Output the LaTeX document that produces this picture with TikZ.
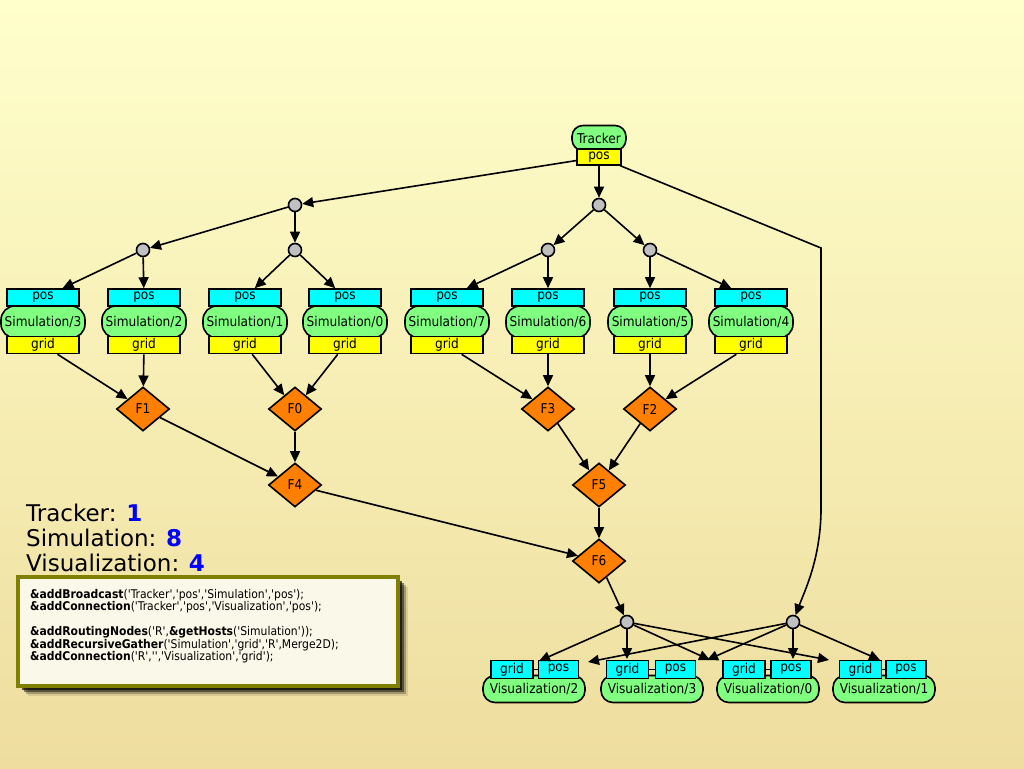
\documentclass[tikz,border=0pt]{standalone}
\usepackage{fontspec}
\setmainfont{DejaVu Sans}
\newfontfamily\cf{DejaVu Sans Condensed}
\usetikzlibrary{shapes.geometric,arrows.meta,calc}
\definecolor{bgtop}{HTML}{FFFFCC}
\definecolor{bgbot}{HTML}{EEDD9E}
\definecolor{grn}{HTML}{80FF80}
\definecolor{org}{HTML}{FF8000}
\definecolor{rgray}{HTML}{C0C0C0}
\definecolor{cyn}{HTML}{00FFFF}
\definecolor{yel}{HTML}{FFFF00}
\definecolor{olv}{HTML}{808000}
\definecolor{cream}{HTML}{FAF8E8}
\definecolor{numblue}{HTML}{0000FF}
\newcommand{\q}{\textquotesingle}
\tikzset{
  lnk/.style={draw=black, line width=1.6pt, -{Triangle[length=11pt,width=10pt]}},
  plain/.style={draw=black, line width=1.6pt},
  lbl/.style={font=\cf\fontsize{13.5}{15}\selectfont, inner sep=0pt, text=black},
  cbox/.style={lbl, rectangle, draw, line width=1.6pt, fill=cyn, minimum height=17pt},
  ybox/.style={lbl, rectangle, draw, line width=1.6pt, fill=yel, minimum height=17pt},
  gsim/.style={lbl, rectangle, rounded corners=14pt, draw, line width=1.6pt, fill=grn, minimum width=84pt, minimum height=32pt},
  gvis/.style={lbl, rectangle, rounded corners=12pt, draw, line width=1.6pt, fill=grn, minimum width=102pt, minimum height=27pt},
  rnode/.style={circle, draw, line width=1.6pt, fill=rgray, minimum size=13pt, inner sep=0pt},
  fnode/.style={lbl, diamond, draw, line width=1.6pt, fill=org, minimum width=53pt, minimum height=44pt},
  codeline/.style={anchor=base west, inner sep=0pt, font=\cf\fontsize{12}{13}\selectfont},
  legend/.style={anchor=base west, inner sep=0pt, font=\fontsize{23}{25}\selectfont},
}
\begin{document}
\begin{tikzpicture}[x=1pt,y=-1pt]
\useasboundingbox (0,0) rectangle (1024,768);
\shade[top color=bgtop, bottom color=bgbot] (0,0) rectangle (1024,768);

% Tracker
\node[lbl, rectangle, rounded corners=11pt, draw, line width=1.6pt, fill=grn, minimum width=54pt, minimum height=25pt] (tr) at (599,138) {Tracker};
\node[ybox, minimum width=44pt, minimum height=16pt] (tp) at (599,157) {pos};

% routing nodes
\node[rnode] (rA) at (295,205) {};
\node[rnode] (rB) at (599,205) {};
\node[rnode] (r1) at (143,250) {};
\node[rnode] (r2) at (295,250) {};
\node[rnode] (r3) at (548,250) {};
\node[rnode] (r4) at (650,250) {};
\node[rnode] (rL) at (627,622) {};
\node[rnode] (rR) at (793,622) {};

% simulations
\foreach \n/\x in {3/43,2/144,1/245,0/345,7/447,6/548,5/650,4/751}{
  \node[gsim] (s\n) at (\x,322) {Simulation/\n};
  \node[cbox, minimum width=72pt] (s\n p) at (\x,297.5) {pos};
  \node[ybox, minimum width=72pt] (s\n g) at (\x,345) {grid};
}

% merge diamonds
\node[fnode] (f1) at (143,409) {F1};
\node[fnode] (f0) at (295,409) {F0};
\node[fnode] (f3) at (548,409) {F3};
\node[fnode] (f2) at (650,409) {F2};
\node[fnode] (f4) at (295,485) {F4};
\node[fnode] (f5) at (599,485) {F5};
\node[fnode] (f6) at (599,561) {F6};

% visualizations
\foreach \n/\c/\g/\p in {2/534/512/558.5,3/652/627.5/675.5,0/768/744/791,1/884/860.5/906}{
  \node[gvis] (v\n) at (\c,689) {\raisebox{-3pt}{Visualization/\n}};
  \node[cbox, minimum width=42pt, minimum height=18pt] (v\n g) at (\g,669.5) {grid};
  \node[cbox, minimum width=40pt, minimum height=18pt] (v\n p) at (\p,669.5) {pos};
  \draw[plain, line width=1.2pt] (v\n g) -- (v\n p);
}

% tracker broadcast
\draw[lnk] (tp) -- (rB);
\draw[lnk] (tp) -- (rA);
\coordinate (k1) at (821,248);
\coordinate (k2) at (821,512);
\draw[lnk] (tp) -- (k1) -- (k2) .. controls (820,560) and (805,590) .. (rR);
\draw[lnk] (rA) -- (r1);
\draw[lnk] (rA) -- (r2);
\draw[lnk] (rB) -- (r3);
\draw[lnk] (rB) -- (r4);
\draw[lnk] (r1) -- (s3p);
\draw[lnk] (r1) -- (s2p);
\draw[lnk] (r2) -- (s1p);
\draw[lnk] (r2) -- (s0p);
\draw[lnk] (r3) -- (s7p);
\draw[lnk] (r3) -- (s6p);
\draw[lnk] (r4) -- (s5p);
\draw[lnk] (r4) -- (s4p);

% gather
\draw[lnk] (s3g) -- (f1);
\draw[lnk] (s2g) -- (f1);
\draw[lnk] (s1g) -- (f0);
\draw[lnk] (s0g) -- (f0);
\draw[lnk] (s7g) -- (f3);
\draw[lnk] (s6g) -- (f3);
\draw[lnk] (s5g) -- (f2);
\draw[lnk] (s4g) -- (f2);
\draw[lnk] (f1) -- (f4);
\draw[lnk] (f0) -- (f4);
\draw[lnk] (f3) -- (f5);
\draw[lnk] (f2) -- (f5);
\draw[lnk] (f4) -- (f6);
\draw[lnk] (f5) -- (f6);
\draw[lnk] (f6) -- (rL);

% to visualizations
\coordinate (gL2) at (539,661);
\coordinate (gL3) at (627,659);
\coordinate (gL0) at (710,660);
\coordinate (gL1) at (829,660);
\coordinate (pR2) at (588,662);
\coordinate (pR3) at (707,660);
\coordinate (pR0) at (793,659);
\coordinate (pR1) at (880,660);
\draw[lnk] (rL) -- (gL2);
\draw[lnk] (rL) -- (gL3);
\draw[lnk] (rL) -- (gL0);
\draw[lnk] (rL) -- (gL1);
\draw[lnk] (rR) -- (pR2);
\draw[lnk] (rR) -- (pR3);
\draw[lnk] (rR) -- (pR0);
\draw[lnk] (rR) -- (pR1);

% legend
\node[legend] (lg1) at (26,521) {Tracker: \textcolor{numblue}{\textbf{1}}};
\node[legend] (lg2) at (26,546) {Simulation: \textcolor{numblue}{\textbf{8}}};
\node[legend] (lg3) at (26,571) {Visualization: \textcolor{numblue}{\textbf{4}}};

% code box with shadow
\foreach \i/\o in {10/0.10,8/0.25,6/0.45,4/0.65}{
  \fill[black, opacity=\o] (18+\i,577+\i) rectangle (398+\i,686+\i);
}
\draw[olv, line width=4pt, fill=cream] (18,577) rectangle (398,686);
\node[codeline] (c1) at (30,598) {\textbf{\&addBroadcast}(\q Tracker\q,\q pos\q,\q Simulation\q,\q pos\q);};
\node[codeline] (c2) at (30,610.5) {\textbf{\&addConnection}(\q Tracker\q,\q pos\q,\q Visualization\q,\q pos\q);};
\node[codeline] (c3) at (30,635.5) {\textbf{\&addRoutingNodes}(\q R\q,\textbf{\&getHosts}(\q Simulation\q));};
\node[codeline] (c4) at (30,648) {\textbf{\&addRecursiveGather}(\q Simulation\q,\q grid\q,\q R\q,Merge2D);};
\node[codeline] (c5) at (30,660.5) {\textbf{\&addConnection}(\q R\q,\q\q,\q Visualization\q,\q grid\q);};
\end{tikzpicture}
\end{document}
